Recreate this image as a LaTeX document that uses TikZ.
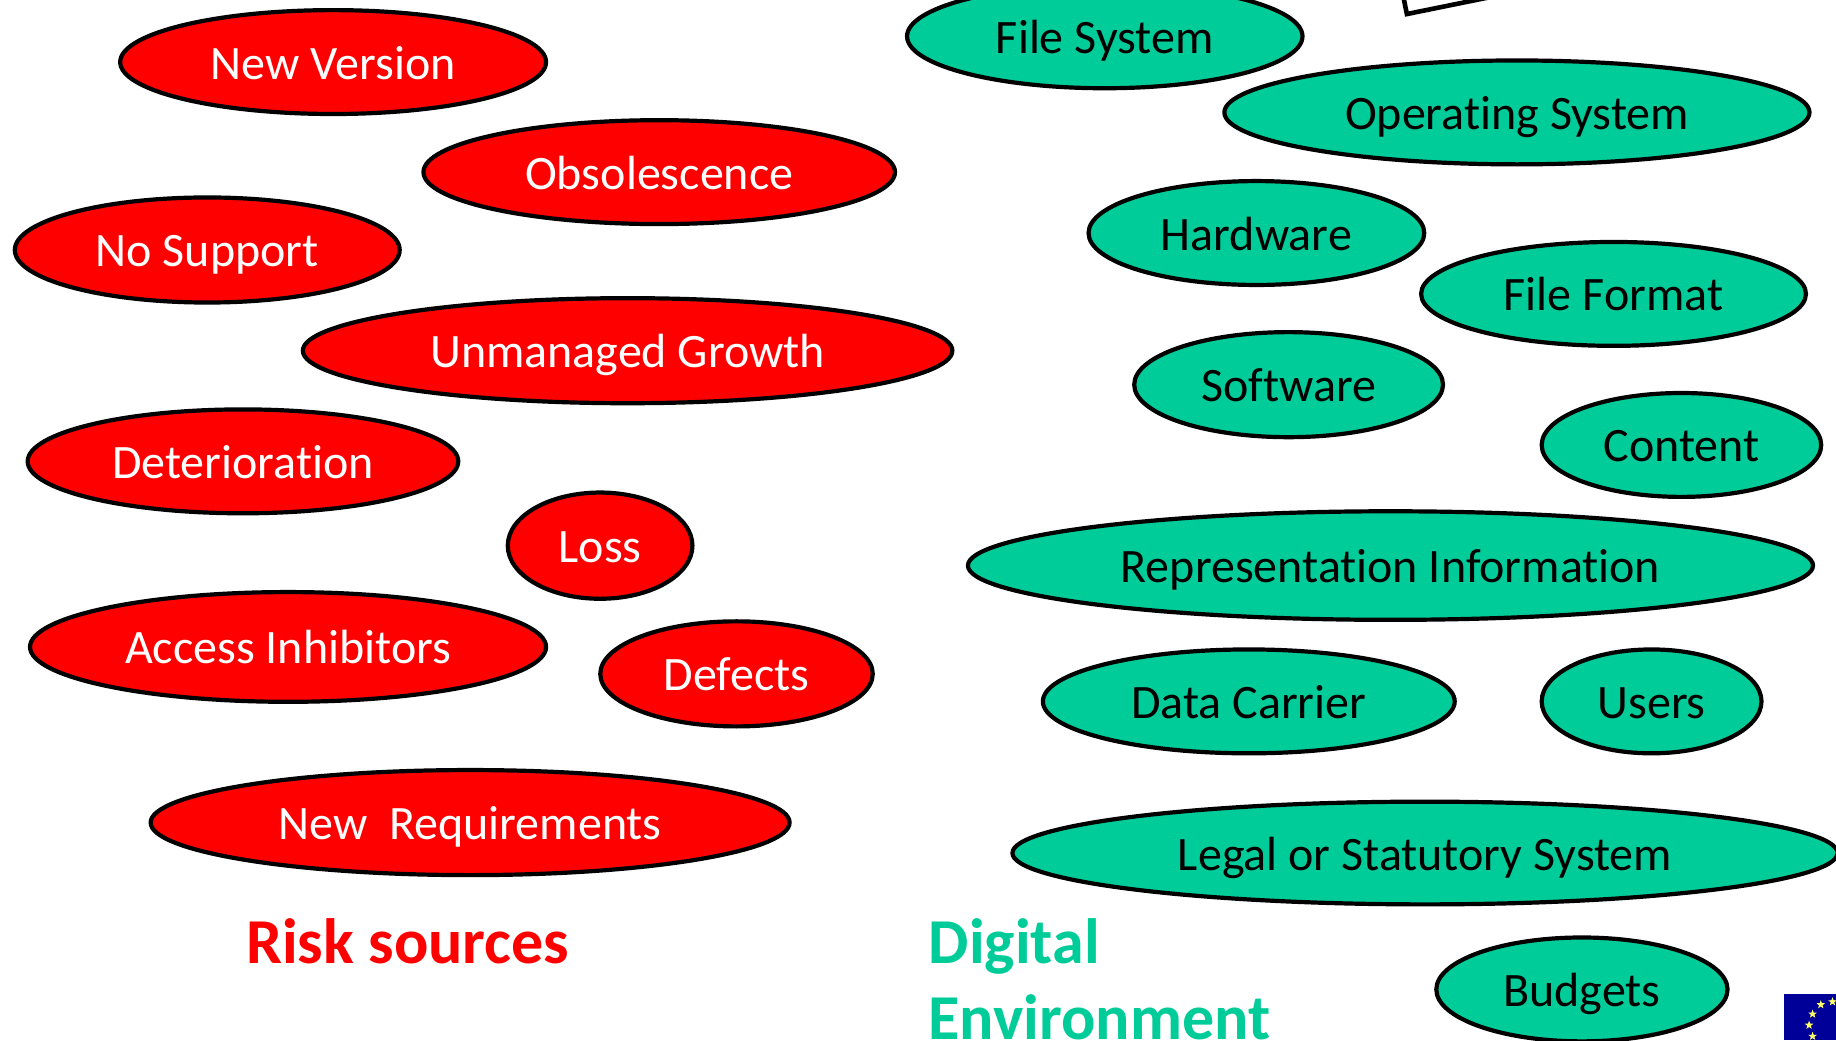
\documentclass[tikz,border=0pt]{standalone}
\usepackage{fontspec}
\setmainfont{Carlito}[RawFeature={-liga}]
\usetikzlibrary{shapes.geometric}
\definecolor{riskred}{RGB}{255,0,0}
\definecolor{envgreen}{RGB}{0,204,153}
\definecolor{eublue}{RGB}{0,0,153}
\definecolor{eustar}{RGB}{255,255,102}
\tikzset{
  oval/.style={ellipse,draw=black,line width=4.2pt,inner sep=0pt,text height=37pt,text depth=3pt,font=\fontsize{48}{57}\selectfont},
  risk/.style={oval,fill=riskred,text=white},
  env/.style={oval,fill=envgreen,text=black},
  heading/.style={inner sep=0pt,font=\fontsize{64}{75}\selectfont\bfseries,anchor=west,align=left},
  eustarshape/.style={star,star points=5,star point ratio=2.4,fill=eustar,draw=none,inner sep=0pt,minimum size=9pt}
}
\newcommand{\ovalnode}[7]{%
  \pgfmathsetmacro{\ow}{(#4-#3)*1.17092-1.5}%
  \pgfmathsetmacro{\oh}{(#6-#5)*1.17092-1.5}%
  \node[#1,minimum width=\ow pt,minimum height=\oh pt] (#2) at ({(#3+#4)/2},{(#5+#6)/2}) {#7};}
\begin{document}
\begin{tikzpicture}[x=1.17092pt,y=-1.17092pt]
\useasboundingbox (0,0) rectangle (1568,888.2);
\clip (0,0) rectangle (1568,888.2);
\fill[white] (0,0) rectangle (1568,888.2);
\ovalnode{risk}{newversion}{102}{467}{8}{98}{New Version}
\ovalnode{risk}{obsolescence}{361}{765}{102}{192}{Obsolescence}
\ovalnode{risk}{nosupport}{12}{342}{168}{259}{No Support}
\ovalnode{risk}{unmanaged}{258}{814}{254}{345}{Unmanaged Growth}
\ovalnode{risk}{deterioration}{23}{392}{349}{439}{Deterioration}
\ovalnode{risk}{loss}{433}{592}{420}{512}{Loss}
\ovalnode{risk}{access}{25}{467}{505}{600}{Access Inhibitors}
\ovalnode{risk}{defects}{512}{746}{530}{621}{Defects}
\ovalnode{risk}{newreq}{128}{675}{657}{748}{New\ \ Requirements}
\ovalnode{env}{filesystem}{774}{1113}{-14}{76}{File System}
\ovalnode{env}{operating}{1045}{1546}{51}{141}{Operating System}
\ovalnode{env}{hardware}{929}{1217}{154}{244}{Hardware}
\ovalnode{env}{fileformat}{1213}{1543}{206}{296}{File Format}
\ovalnode{env}{software}{968}{1233}{283}{374}{Software}
\ovalnode{env}{content}{1316}{1556}{335}{425}{Content}
\ovalnode{env}{repinfo}{826}{1549}{436}{530}{Representation Information}
\ovalnode{env}{datacarrier}{890}{1243}{554}{644}{Data Carrier}
\ovalnode{env}{users}{1316}{1505}{554}{644}{Users}
\ovalnode{env}{legal}{864}{1570}{684}{773}{Legal or Statutory System}
\ovalnode{env}{budgets}{1226}{1476}{800}{890}{Budgets}
\node[heading,text=riskred] (risktitle) at (210,804) {Risk sources};
\node[heading,text=envgreen,anchor=north west] (envtitle) at (793,784) {Digital\\[1pt]Environment};
\draw[black,line width=4.6pt,line join=miter] (1197,-10) -- (1201.5,12) -- (1295,-7);
\fill[eublue] (1523.5,849) rectangle (1568,888.2);
\node[eustarshape] (s1) at (1555,858) {};
\node[eustarshape] (s2) at (1565,855.5) {};
\node[eustarshape] (s3) at (1548,866) {};
\node[eustarshape] (s4) at (1545,875.5) {};
\node[eustarshape] (s5) at (1548,885) {};
\end{tikzpicture}
\end{document}
